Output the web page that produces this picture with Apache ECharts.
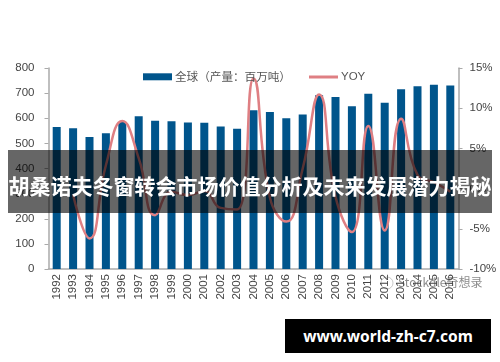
<!DOCTYPE html>
<html><head><meta charset="utf-8">
<script src="https://cdn.jsdelivr.net/npm/echarts@6/dist/echarts.min.js"></script>
<style>
html,body{margin:0;padding:0;background:#fff;overflow:hidden;width:500px;height:362px}
#c{position:absolute;left:0;top:0;width:500px;height:362px;filter:blur(0.45px)}
#band{position:absolute;left:8px;top:150px;width:484px;height:63px;background:rgba(0,0,0,.6)}
#title{position:absolute;left:0;top:170px;width:500px;text-align:center;color:#fff;font:bold 21px/30px "Noto Sans CJK SC";white-space:nowrap}
#url{position:absolute;left:285px;top:319px;width:206px;height:34px;background:#000;color:#fff;text-align:center;font:bold 15.5px/34px "Noto Sans","DejaVu Sans";white-space:nowrap}
</style></head><body>
<div id="c"></div>
<div id="band"></div>
<div id="title">胡桑诺夫冬窗转会市场价值分析及未来发展潜力揭秘</div>
<div id="url">www.world-zh-c7.com</div>
<script>
const years = ['1992','1993','1994','1995','1996','1997','1998','1999','2000','2001','2002','2003','2004','2005','2006','2007','2008','2009','2010','2011','2012','2013','2014','2015','2016'];
const output = [565,560,525,540,585,608,590,588,583,582,567,558,632,625,600,615,692,685,648,698,662,715,727,733,730];
const yoy = [null,-0.8,-6.2,2.9,8.4,3.8,-3.3,-0.4,-0.8,-0.3,-2.4,-2.6,13.7,-1.1,-4.1,2.5,11.7,-1.0,-5.4,7.8,-5.2,8.7,1.7,0.8,-0.4];
const barName = '全球（产量：百万吨）';
const lineName = 'YOY';
const watermark = 'Stockdle奇想录';
const latinFont = '"Liberation Sans",Arial,sans-serif';
const chart = echarts.init(document.getElementById('c'), null, {renderer:'canvas'});
chart.setOption({
  animation:false,
  backgroundColor:'#fff',
  grid:{left:48.5,right:41.5,top:68,bottom:93},
  legend:[
    {left:143,top:71,padding:0,itemWidth:29,itemHeight:7,
      textStyle:{fontSize:11.6,color:'#555',fontFamily:'"Noto Sans CJK SC"',padding:[0,0,0,-2]},
      data:[{name:barName,icon:'rect'}]},
    {left:309,top:71,padding:0,itemWidth:29,itemHeight:3,
      textStyle:{fontSize:11.5,color:'#555',fontFamily:latinFont,padding:[0,0,0,-2]},
      data:[{name:lineName,icon:'rect'}]}
  ],
  xAxis:{type:'category',data:years,
    axisLine:{lineStyle:{color:'#aaa',width:1.5}},
    axisTick:{alignWithLabel:false,length:4,lineStyle:{color:'#aaa'}},
    axisLabel:{rotate:90,interval:0,fontSize:11.5,color:'#444',margin:5,fontFamily:latinFont}},
  yAxis:[
    {type:'value',min:0,max:800,interval:100,splitLine:{show:false},
      axisLine:{show:true,lineStyle:{color:'#aaa',width:1.5}},
      axisTick:{show:true,length:4,lineStyle:{color:'#aaa'}},
      axisLabel:{fontSize:11.5,color:'#444',margin:14,fontFamily:latinFont}},
    {type:'value',position:'right',min:-10,max:15,interval:5,splitLine:{show:false},
      axisLine:{show:true,lineStyle:{color:'#aaa',width:1.5}},
      axisTick:{show:true,length:4,lineStyle:{color:'#aaa'}},
      axisLabel:{fontSize:11.5,color:'#444',margin:11,align:'left',fontFamily:latinFont,formatter:'{value}%'}}
  ],
  series:[
    {name:barName,type:'bar',data:output,barWidth:8,itemStyle:{color:'#00558c'}},
    {name:lineName,type:'line',yAxisIndex:1,data:yoy,smooth:0.5,symbol:'none',connectNulls:false,
      lineStyle:{color:'#df7f83',width:2.5},itemStyle:{color:'#df7f83'}}
  ],
  graphic:[
    {type:'circle',silent:true,shape:{cx:387,cy:283,r:6},style:{fill:'rgba(255,255,255,.75)',stroke:'rgba(150,150,150,.5)',lineWidth:1}},
    {type:'text',x:398,y:276,silent:true,
      style:{text:watermark,fontSize:12,fill:'rgba(110,110,110,.8)',fontFamily:'"Noto Sans CJK SC"',
        stroke:'rgba(255,255,255,.6)',lineWidth:2}}
  ]
});
</script></body></html>
